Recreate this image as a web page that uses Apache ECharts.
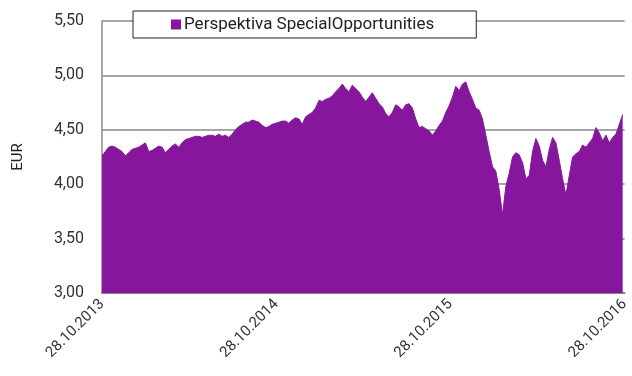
<!DOCTYPE html>
<html>
<head>
<meta charset="utf-8">
<script src="https://cdn.jsdelivr.net/npm/echarts@6/dist/echarts.min.js"></script>
<style>
  html, body { margin: 0; padding: 0; background: #fff; }
  #chart { width: 632px; height: 376px; }
</style>
</head>
<body>
<div id="chart"></div>
<script>
// Weekly closing prices (EUR), starting 28.10.2013
const seriesName = 'Perspektiva SpecialOpportunities';
const weekStepDays = 7;
const prices = [
  4.26, 4.30, 4.34, 4.35, 4.34, 4.32, 4.30, 4.26, 4.29, 4.32,
  4.33, 4.34, 4.36, 4.38, 4.30, 4.31, 4.33, 4.35, 4.34, 4.29,
  4.32, 4.35, 4.37, 4.34, 4.38, 4.41, 4.42, 4.43, 4.44, 4.44,
  4.43, 4.44, 4.45, 4.45, 4.44, 4.46, 4.44, 4.45, 4.43, 4.46,
  4.50, 4.53, 4.55, 4.57, 4.57, 4.59, 4.58, 4.57, 4.54, 4.52,
  4.53, 4.55, 4.56, 4.57, 4.58, 4.58, 4.56, 4.59, 4.61, 4.60,
  4.55, 4.62, 4.64, 4.66, 4.70, 4.77, 4.76, 4.78, 4.79, 4.81,
  4.85, 4.88, 4.92, 4.88, 4.85, 4.91, 4.88, 4.85, 4.80, 4.76,
  4.80, 4.84, 4.79, 4.74, 4.71, 4.65, 4.62, 4.66, 4.73, 4.71,
  4.68, 4.73, 4.74, 4.70, 4.60, 4.52, 4.53, 4.51, 4.49, 4.45,
  4.49, 4.54, 4.58, 4.66, 4.72, 4.80, 4.90, 4.86, 4.92, 4.94,
  4.85, 4.78, 4.70, 4.68, 4.60, 4.45, 4.30, 4.16, 4.12, 3.95,
  3.72, 3.98, 4.10, 4.25, 4.29, 4.27, 4.20, 4.05, 4.08, 4.30,
  4.42, 4.35, 4.22, 4.16, 4.32, 4.43, 4.38, 4.22, 4.05, 3.90,
  4.08, 4.25, 4.28, 4.30, 4.36, 4.34, 4.38, 4.42, 4.52, 4.47,
  4.40, 4.45, 4.38, 4.43, 4.46, 4.55, 4.64
];
const tickLabels = ['28.10.2013', '28.10.2014', '28.10.2015', '28.10.2016'];
const spanDays = 1096;
const yearDays = spanDays / 3;

const points = prices.map((v, i) => [i * weekStepDays, v]);

const chart = echarts.init(document.getElementById('chart'), null, { renderer: 'canvas' });
const purple = '#86179c';
const font = 'Roboto, "DejaVu Sans", sans-serif';

chart.setOption({
  animation: false,
  backgroundColor: '#fff',
  grid: { left: 102, right: 4, top: 21, bottom: 83, containLabel: false },
  legend: {
    data: [seriesName],
    left: 133,
    top: 11,
    padding: [5, 42, 5, 38],
    itemWidth: 10,
    itemHeight: 10,
    icon: 'rect',
    backgroundColor: '#fff',
    borderColor: '#222',
    borderWidth: 1,
    borderRadius: 0,
    textStyle: { fontFamily: font, fontSize: 17, color: '#222', padding: [0, 0, 0, -2] }
  },
  xAxis: {
    type: 'value',
    min: 0,
    max: spanDays,
    interval: yearDays,
    axisLine: { show: true, onZero: false, lineStyle: { color: '#888', width: 2 } },
    axisTick: { show: false },
    splitLine: { show: false },
    axisLabel: {
      rotate: 45,
      margin: 9,
      fontFamily: font,
      fontSize: 15,
      color: '#333',
      formatter: v => tickLabels[Math.round(v / yearDays)] || ''
    }
  },
  yAxis: {
    type: 'value',
    min: 3,
    max: 5.5,
    interval: 0.5,
    name: 'EUR',
    nameLocation: 'middle',
    nameRotate: 90,
    nameGap: 76,
    nameTextStyle: { fontFamily: font, fontSize: 15, color: '#222' },
    axisLine: { show: true, lineStyle: { color: '#888', width: 1.5 } },
    axisTick: { show: false },
    splitLine: { show: true, lineStyle: { color: '#888', width: 1.5 } },
    axisLabel: {
      margin: 18,
      fontFamily: font,
      fontSize: 16,
      color: '#333',
      formatter: v => v.toFixed(2).replace('.', ',')
    }
  },
  series: [{
    name: seriesName,
    type: 'line',
    data: points,
    symbol: 'none',
    itemStyle: { color: purple },
    lineStyle: { color: purple, width: 1 },
    areaStyle: { color: purple, opacity: 1, origin: 'start' }
  }]
});
</script>
</body>
</html>
